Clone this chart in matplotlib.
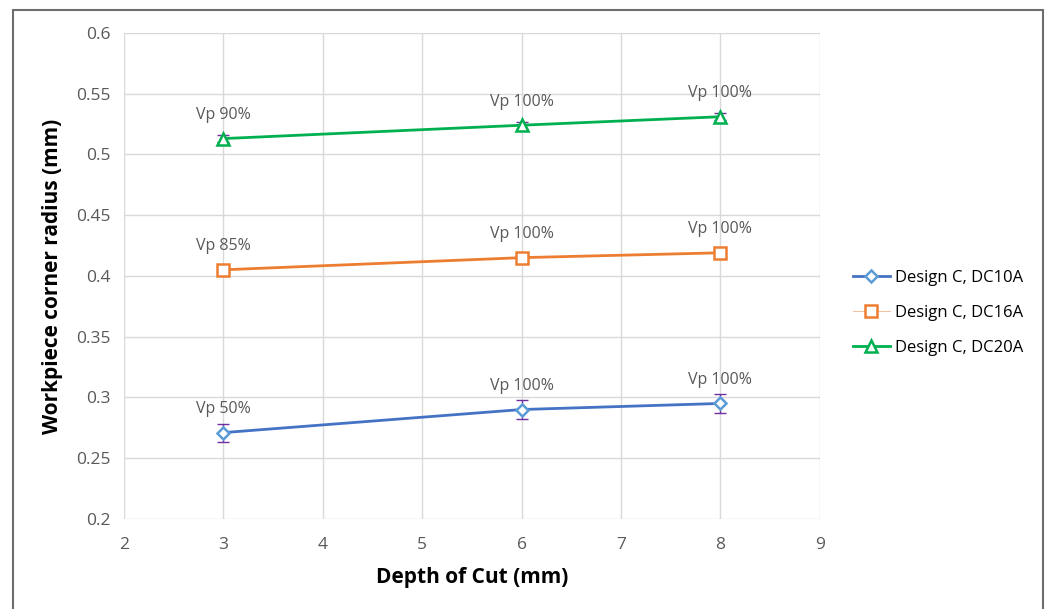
'''
Workpiece corner radius vs depth of cut for three Design C tools
'''
import matplotlib
matplotlib.use('Agg')
import matplotlib.pyplot as plt
from matplotlib.patches import Rectangle

depth = [3, 6, 8]
series_names = ['Design C, DC10A', 'Design C, DC16A', 'Design C, DC20A']
dc10a = [0.271, 0.290, 0.295]
dc16a = [0.405, 0.415, 0.419]
dc20a = [0.513, 0.524, 0.531]
dc10a_err = [0.0074, 0.0078, 0.0075]
dc16a_err = [0.002, 0.002, 0.002]
dc20a_err = [0.003, 0.003, 0.003]
dc10a_labels = ['Vp 50%', 'Vp 100%', 'Vp 100%']
dc16a_labels = ['Vp 85%', 'Vp 100%', 'Vp 100%']
dc20a_labels = ['Vp 90%', 'Vp 100%', 'Vp 100%']

plt.rcParams['font.family'] = ['Open Sans', 'DejaVu Sans']

fig = plt.figure(figsize=(10.51, 6.09), dpi=100)
ax = fig.add_axes([0.118, 0.148, 0.662, 0.798])

# outer chart frame (bottom edge runs off the picture)
fig.patches.append(Rectangle((13 / 1051, -0.05), 1030 / 1051, 1.05 - 10 / 609,
                             transform=fig.transFigure, fill=False,
                             edgecolor='#6e6e6e', linewidth=1.5))

styles = [
    (dc10a, dc10a_err, dc10a_labels, '#4472C4', '#5B9BD5', 'D', 6),
    (dc16a, dc16a_err, dc16a_labels, '#ED7D31', '#ED7D31', 's', 8),
    (dc20a, dc20a_err, dc20a_labels, '#00B050', '#00B050', '^', 8),
]

for name, (vals, err, labels, lc, mc, mk, ms) in zip(series_names, styles):
    ax.errorbar(depth, vals, yerr=err, fmt='none', ecolor='#7030A0',
                elinewidth=1, capsize=4, capthick=1, zorder=3)
    ax.plot(depth, vals, color=lc, linewidth=2, marker=mk, markersize=ms,
            markerfacecolor='white', markeredgecolor=mc, markeredgewidth=1.8,
            label=name, zorder=4)
    for x, y, t in zip(depth, vals, labels):
        ax.annotate(t, (x, y), xytext=(0, 17), textcoords='offset points',
                    ha='center', va='center', fontsize=11.5, color='#595959')

ax.set_xlim(2, 9)
ax.set_ylim(0.2, 0.6)
ax.set_xticks(range(2, 10))
ax.set_yticks([0.2, 0.25, 0.3, 0.35, 0.4, 0.45, 0.5, 0.55, 0.6])
ax.set_yticklabels(['0.2', '0.25', '0.3', '0.35', '0.4', '0.45', '0.5', '0.55', '0.6'])
ax.grid(True, color='#d9d9d9', linewidth=1)
ax.set_axisbelow(True)
for s in ax.spines.values():
    s.set_visible(False)
ax.tick_params(length=0, labelsize=12.5, labelcolor='#595959')
ax.tick_params(axis='x', pad=13)
ax.tick_params(axis='y', pad=10)

ax.set_xlabel('Depth of Cut (mm)', fontsize=15, fontweight='bold', labelpad=10)
ax.set_ylabel('Workpiece corner radius (mm)', fontsize=15, fontweight='bold', labelpad=9)

leg = ax.legend(loc='center left', bbox_to_anchor=(1.026, 0.424), frameon=False,
                fontsize=12, handlelength=2.2, handletextpad=0.3, labelspacing=1.15)
# the orange entry in the original has a thin faint line but a solid marker
leg.get_lines()[1].set_linewidth(0.8)
leg.get_lines()[1].set_color('#f6c3a0')
leg.get_lines()[1].set_markeredgecolor('#ED7D31')

fig.savefig('out.png', dpi=100)
